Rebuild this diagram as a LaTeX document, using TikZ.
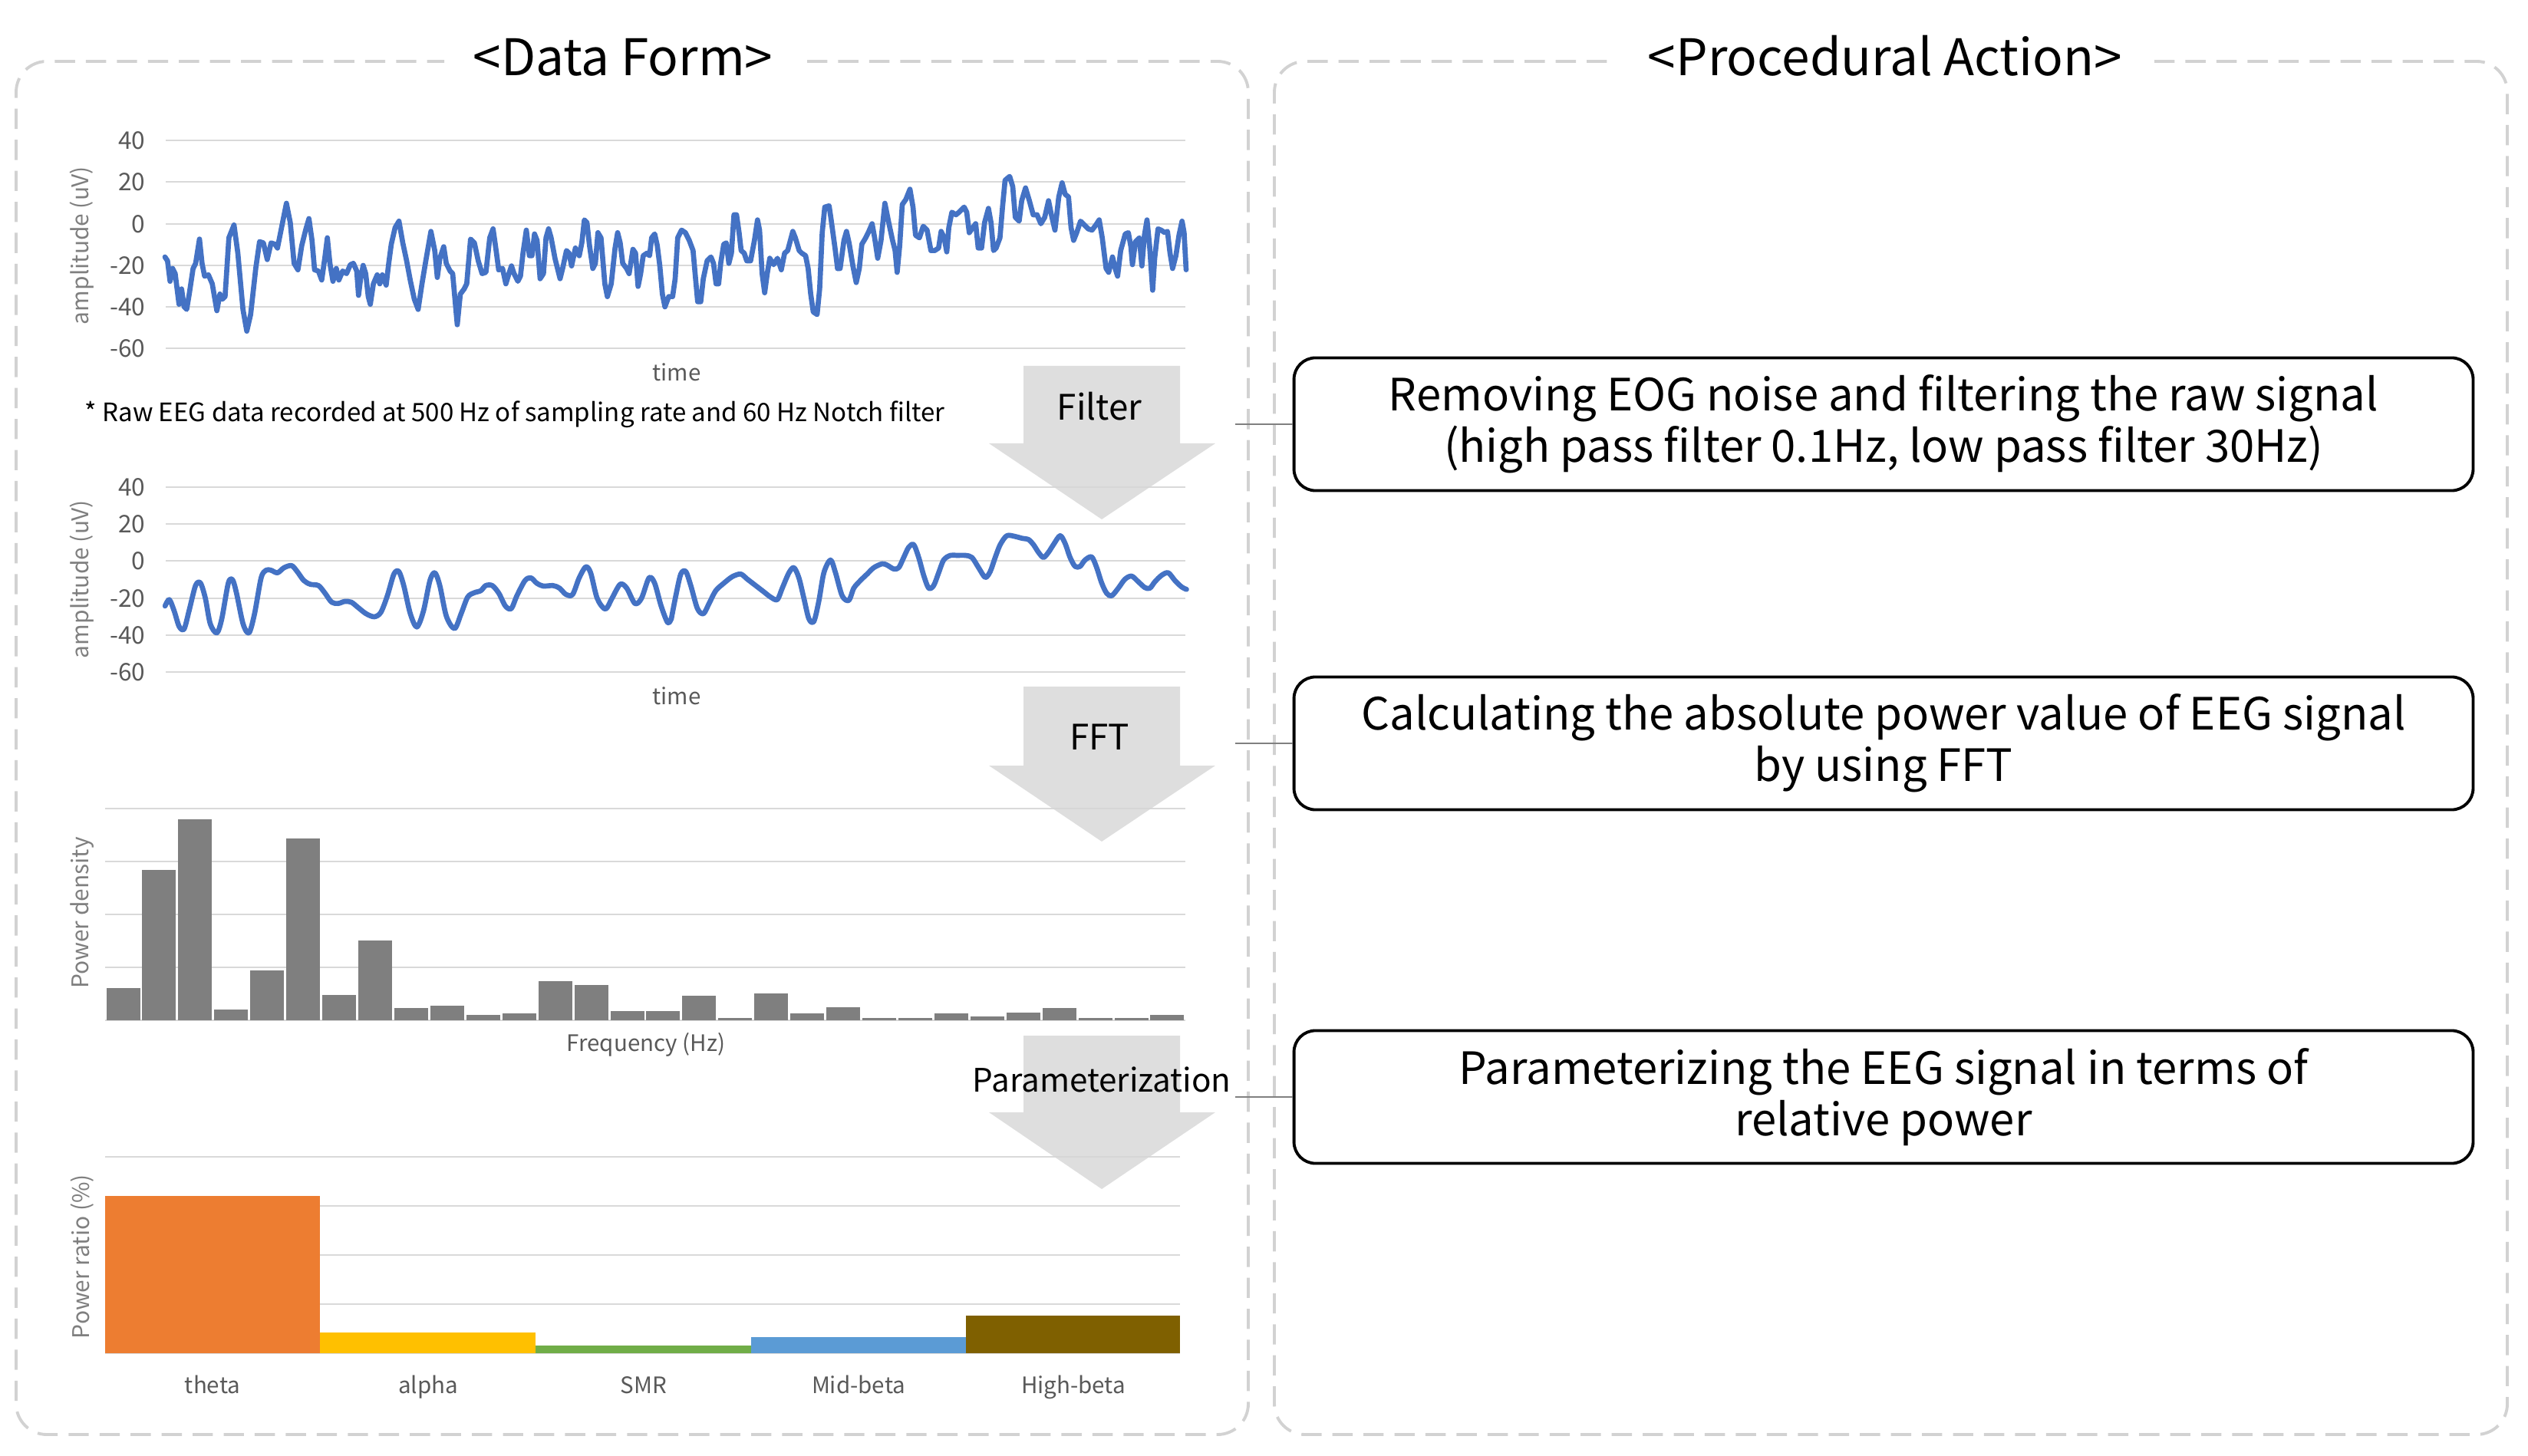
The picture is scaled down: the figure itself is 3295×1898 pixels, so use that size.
\documentclass[tikz,border=0pt]{standalone}
\usepackage{fontspec}
\setmainfont{Noto Sans CJK KR}
\definecolor{eegblue}{HTML}{4472C4}
\definecolor{gridgray}{HTML}{D9D9D9}
\definecolor{bargray}{HTML}{7F7F7F}
\definecolor{tickgray}{HTML}{595959}
\definecolor{axisgray}{HTML}{7F7F7F}
\definecolor{panelgray}{HTML}{D2D2D2}
\definecolor{arrowgray}{HTML}{D6D6D6}
\definecolor{conngray}{HTML}{808080}
\definecolor{cTheta}{HTML}{ED7D31}
\definecolor{cAlpha}{HTML}{FFC000}
\definecolor{cSMR}{HTML}{70AD47}
\definecolor{cMid}{HTML}{5B9BD5}
\definecolor{cHigh}{HTML}{7F6000}
\begin{document}
\begin{tikzpicture}[x=0.01cm,y=-0.01cm,
  panelline/.style={draw=panelgray, line width=1.1pt, dash pattern=on 7.5pt off 4pt, rounded corners=0.4cm},
  gridln/.style={draw=gridgray, line width=0.8pt},
  waveline/.style={draw=eegblue, line width=1.9pt, line join=round, line cap=round},
  tickl/.style={text=tickgray, font=\fontsize{9}{10}\selectfont, inner sep=0pt, anchor=east},
  axtitle/.style={text=axisgray, font=\fontsize{8.5}{10}\selectfont, inner sep=0pt, rotate=90},
  catl/.style={text=tickgray, font=\fontsize{8.4}{10}\selectfont, inner sep=0pt, anchor=base},
  notel/.style={font=\fontsize{9.4}{11}\selectfont, inner sep=0pt, anchor=base west},
  paneltitle/.style={font=\fontsize{18.7}{22}\selectfont, inner sep=0pt, anchor=base},
  arrlab/.style={font=\fontsize{13}{15}\selectfont, inner sep=0pt, anchor=base},
  pbox/.style={draw=black, line width=1.1pt, rounded corners=0.28cm, minimum width=15.36cm, minimum height=1.73cm, align=center, font=\fontsize{16.5}{20}\selectfont, inner sep=0pt, fill=white},
  connl/.style={draw=conngray, line width=0.6pt},
  bigarr/.style={fill=arrowgray, opacity=0.8},
]
\useasboundingbox (0,0) rectangle (3295,1898);

% panels
\draw[panelline] (1052,80) -- (1627,80) -- (1627,1870) -- (21,1870) -- (21,80) -- (579,80);
\draw[panelline] (2808,80) -- (3268,80) -- (3268,1870) -- (1661,1870) -- (1661,80) -- (2106,80);
\node[paneltitle] (tdata) at (812,99) {<Data Form>};
\node[paneltitle] (tproc) at (2457,99) {<Procedural Action>};

% chart 1 : raw EEG
\foreach \yy in {183,237,292,346,400,454} \draw[gridln] (216,\yy) -- (1545,\yy);
\foreach \v/\yy [count=\k] in {40/183,20/237,0/292,-20/346,-40/400,-60/454}
  \node[tickl] (ta\k) at (190,\yy) {\v};
\node[axtitle] (ya1) at (107,320) {amplitude (uV)};
\node[catl] (xa1) at (882,497) {time};
\begin{scope}[shift={(210,170)}, xscale=0.33333, yscale=0.33333]
\draw[waveline] (15,495) -- (25,510) -- (35,590) -- (45,540) -- (55,560) -- (70,680) -- (80,620) -- (90,690) -- (100,700) -- (110,640) -- (125,540) -- (135,520) -- (150,425) -- (160,520) -- (170,570) -- (185,565) -- (200,600) -- (218,705) -- (230,640) -- (240,660) -- (250,650) -- (265,420) -- (285,370) -- (300,480) -- (320,700) -- (335,785) -- (350,720) -- (370,540) -- (385,435) -- (400,440) -- (415,505) -- (430,440) -- (445,445) -- (455,460) -- (465,410) -- (490,285) -- (505,360) -- (520,520) -- (535,545) -- (550,450) -- (565,390) -- (578,345) -- (590,430) -- (600,545) -- (615,550) -- (628,585) -- (640,500) -- (650,420) -- (660,520) -- (672,590) -- (685,540) -- (695,585) -- (710,550) -- (725,560) -- (740,525) -- (752,520) -- (765,550) -- (772,645) -- (780,580) -- (790,528) -- (800,560) -- (810,650) -- (818,680) -- (830,600) -- (845,565) -- (855,600) -- (865,565) -- (880,605) -- (890,520) -- (900,445) -- (915,380) -- (930,355) -- (945,440) -- (960,510) -- (975,590) -- (990,660) -- (1005,700) -- (1020,600) -- (1035,510) -- (1055,395) -- (1070,470) -- (1080,575) -- (1090,500) -- (1105,455) -- (1115,520) -- (1130,550) -- (1140,560) -- (1158,760) -- (1170,640) -- (1185,620) -- (1195,600) -- (1210,425) -- (1225,440) -- (1240,510) -- (1255,560) -- (1270,555) -- (1285,420) -- (1298,385) -- (1310,470) -- (1320,545);
\end{scope}
\begin{scope}[shift={(650,170)}, xscale=0.33333, yscale=0.33333]
\draw[waveline] (0,545) -- (15,540) -- (28,600) -- (40,560) -- (50,530) -- (60,560) -- (75,590) -- (85,570) -- (95,480) -- (108,390) -- (120,490) -- (130,490) -- (140,405) -- (150,430) -- (162,580) -- (175,560) -- (185,420) -- (195,385) -- (205,420) -- (220,500) -- (240,580) -- (250,540) -- (265,470) -- (275,480) -- (285,530) -- (300,460) -- (315,490) -- (325,440) -- (335,350) -- (345,360) -- (355,450) -- (368,540) -- (378,520) -- (388,400) -- (400,420) -- (415,600) -- (425,650) -- (440,600) -- (455,460) -- (465,400) -- (475,440) -- (485,520) -- (500,540) -- (510,560) -- (525,465) -- (535,480) -- (545,610) -- (555,560) -- (565,490) -- (580,480) -- (590,490) -- (598,420) -- (610,405) -- (620,450) -- (630,530) -- (640,640) -- (650,690) -- (665,650) -- (680,650) -- (690,580) -- (700,420) -- (715,390) -- (730,400) -- (745,430) -- (760,470) -- (768,560) -- (778,670) -- (790,670) -- (800,580) -- (815,510) -- (830,495) -- (840,520) -- (850,600) -- (860,600) -- (868,520) -- (880,445) -- (890,440) -- (900,520) -- (910,480) -- (920,330) -- (930,330) -- (940,400) -- (948,470) -- (960,480) -- (970,510) -- (985,510) -- (1000,430) -- (1012,350) -- (1020,390) -- (1030,560) -- (1040,635) -- (1050,560) -- (1060,500) -- (1075,525) -- (1090,500) -- (1105,545) -- (1118,480) -- (1130,470) -- (1150,395) -- (1160,420) -- (1175,470) -- (1185,480) -- (1200,490) -- (1210,540) -- (1220,640) -- (1230,710) -- (1245,720) -- (1255,620) -- (1265,400) -- (1275,300) -- (1292,295) -- (1300,350) -- (1315,460) -- (1325,540);
\end{scope}
\begin{scope}[shift={(1090,170)}, xscale=0.33333, yscale=0.33333]
\draw[waveline] (5,540) -- (15,540) -- (30,430) -- (40,395) -- (50,440) -- (65,530) -- (78,595) -- (90,540) -- (100,445) -- (115,420) -- (125,400) -- (140,365) -- (150,420) -- (162,500) -- (175,430) -- (190,285) -- (205,360) -- (220,430) -- (230,470) -- (238,555) -- (248,450) -- (258,290) -- (272,270) -- (288,230) -- (300,300) -- (310,410) -- (325,420) -- (340,375) -- (355,390) -- (370,470) -- (385,470) -- (400,460) -- (410,395) -- (422,420) -- (432,475) -- (440,380) -- (452,320) -- (468,330) -- (480,320) -- (500,300) -- (510,320) -- (520,400) -- (530,385) -- (545,365) -- (555,460) -- (568,460) -- (580,360) -- (595,305) -- (605,360) -- (615,470) -- (625,460) -- (640,420) -- (650,300) -- (660,195) -- (678,180) -- (690,220) -- (700,340) -- (715,355) -- (725,275) -- (740,225) -- (755,275) -- (770,330) -- (785,330) -- (800,365) -- (815,340) -- (830,275) -- (840,325) -- (855,390) -- (862,330) -- (870,260) -- (883,205) -- (895,250) -- (908,260) -- (918,380) -- (928,430) -- (940,400) -- (955,355) -- (970,370) -- (985,385) -- (1000,390) -- (1015,370) -- (1028,350) -- (1040,420) -- (1055,540) -- (1065,555) -- (1080,495) -- (1092,545) -- (1100,570) -- (1112,470) -- (1130,405) -- (1142,400) -- (1152,455) -- (1158,525) -- (1170,435) -- (1185,420) -- (1195,530) -- (1205,410) -- (1215,350) -- (1225,450) -- (1237,625) -- (1245,500) -- (1258,385) -- (1270,390) -- (1285,400) -- (1295,395) -- (1305,480) -- (1315,540) -- (1328,490) -- (1340,410) -- (1352,355) -- (1360,400) -- (1368,545);
\end{scope}
\node[notel] (note) at (110,550) {* Raw EEG data recorded at 500 Hz of sampling rate and 60 Hz Notch filter};

% chart 2 : filtered EEG
\foreach \yy in {635,683,731,780,828,876} \draw[gridln] (216,\yy) -- (1545,\yy);
\foreach \v/\yy [count=\k] in {40/635,20/683,0/731,-20/780,-40/828,-60/876}
  \node[tickl] (tb\k) at (190,\yy) {\v};
\node[axtitle] (ya2) at (107,755) {amplitude (uV)};
\node[catl] (xa2) at (882,918) {time};
\begin{scope}[shift={(210,620)}, xscale=0.42735, yscale=0.33333]
\draw[waveline] plot[smooth, tension=0.5] coordinates {(12,510) (25,485) (40,530) (55,590) (70,600) (85,530) (105,430) (120,420) (135,480) (150,580) (170,615) (185,560) (205,420) (218,408) (230,460) (250,580) (268,615) (285,540) (305,400) (320,370) (335,370) (355,380) (375,360) (398,352) (415,375) (435,410) (455,425) (480,430) (500,460) (520,495) (540,500) (560,492) (580,495) (600,515) (625,540) (650,552) (670,535) (690,470) (710,385) (725,375) (740,430) (760,540) (780,592) (800,530) (820,410) (835,380) (850,430) (870,550) (895,598) (915,540) (935,475) (955,458) (975,450) (990,430) (1010,430) (1030,460) (1050,510) (1068,520) (1085,470) (1110,410) (1128,400) (1145,420) (1165,432) (1195,430) (1215,440) (1235,465) (1255,465) (1275,400) (1295,357) (1310,380) (1330,480) (1355,522) (1375,480) (1400,425) (1420,440) (1445,500) (1465,480) (1488,400) (1505,420) (1525,510) (1545,575) (1556,560)};
\end{scope}
\begin{scope}[shift={(870,620)}, xscale=0.43365, yscale=0.33333]
\draw[waveline] plot[smooth, tension=0.5] coordinates {(11.5,560) (25,470) (40,385) (55,375) (70,430) (90,520) (108,540) (125,500) (145,450) (170,420) (195,395) (220,385) (240,405) (265,430) (290,455) (310,475) (330,485) (345,440) (365,380) (380,360) (395,400) (410,480) (425,560) (440,570) (455,490) (470,380) (490,330) (505,380) (525,470) (545,488) (560,440) (580,410) (600,385) (620,360) (645,345) (660,350) (680,365) (695,360) (710,320) (725,280) (740,270) (755,320) (770,390) (785,440) (800,430) (815,380) (830,330) (850,312) (870,312) (895,312) (915,320) (935,360) (955,398) (970,375) (985,320) (1000,270) (1020,235) (1045,238) (1065,245) (1085,250) (1100,270) (1115,300) (1130,320) (1145,300) (1160,270) (1180,235) (1195,265) (1210,320) (1225,355) (1240,355) (1255,330) (1275,318) (1290,360) (1305,420) (1320,460) (1335,470) (1355,440) (1375,405) (1395,393) (1415,415) (1435,438) (1450,440) (1465,415) (1485,390) (1505,380) (1525,410) (1545,435) (1560,445)};
\end{scope}

% chart 3 : power spectrum
\foreach \yy in {1054,1123,1192,1261,1330} \draw[gridln] (137,\yy) -- (1545,\yy);
\foreach \h [count=\i from 0] in {42,196,262,14,65,237,33,104,16,19,7,9,51,46,12,12,32,3,35,9,17,3,3,9,5,10,16,3,3,7}
  \fill[bargray] ({138.5+\i*46.93},1330) rectangle ++(44,-\h);
\node[axtitle] (ya3) at (107,1190) {Power density};
\node[catl] (xa3) at (842,1370) {Frequency (Hz)};

% chart 4 : relative power
\foreach \yy in {1508,1572,1636,1700,1764} \draw[gridln] (137,\yy) -- (1538,\yy);
\fill[cTheta] (137,1559) rectangle (417,1764);
\fill[cAlpha] (417,1737) rectangle (698,1764);
\fill[cSMR] (698,1754) rectangle (979,1764);
\fill[cMid] (979,1743) rectangle (1259,1764);
\fill[cHigh] (1259,1715) rectangle (1538,1764);
\node[axtitle] (ya4) at (107,1638) {Power ratio (\%)};
\node[catl] (c1) at (277,1816) {theta};
\node[catl] (c2) at (558,1816) {alpha};
\node[catl] (c3) at (839,1816) {SMR};
\node[catl] (c4) at (1119,1816) {Mid-beta};
\node[catl] (c5) at (1399,1816) {High-beta};

% big arrows
\fill[bigarr] (1334,477) -- (1538,477) -- (1538,578) -- (1584,578) -- (1436,677) -- (1289,578) -- (1334,578) -- cycle;
\fill[bigarr] (1334,895) -- (1538,895) -- (1538,998) -- (1584,998) -- (1436,1097) -- (1289,998) -- (1334,998) -- cycle;
\fill[bigarr] (1334,1350) -- (1538,1350) -- (1538,1450) -- (1584,1450) -- (1436,1550) -- (1289,1450) -- (1334,1450) -- cycle;
\node[arrlab] (lfilter) at (1433,548) {Filter};
\node[arrlab] (lfft) at (1433,977) {FFT};
\node[arrlab, font=\fontsize{12}{14}\selectfont] (lparam) at (1436,1423) {Parameterization};

% procedural boxes
\node[pbox] (b1) at (2455,553) {\raisebox{-0.8pt}{Removing EOG noise and filtering the raw signal}\\(high pass filter 0.1Hz, low pass filter 30Hz)};
\node[pbox] (b2) at (2455,969) {\raisebox{-0.8pt}{Calculating the absolute power value of EEG signal}\\by using FFT};
\node[pbox] (b3) at (2455,1430) {\raisebox{-0.8pt}{Parameterizing the EEG signal in terms of}\\relative power};
\coordinate (k1) at (1610,553);
\coordinate (k2) at (1610,969);
\coordinate (k3) at (1610,1430);
\draw[connl] (k1) -- (b1.west);
\draw[connl] (k2) -- (b2.west);
\draw[connl] (k3) -- (b3.west);
\end{tikzpicture}
\end{document}
